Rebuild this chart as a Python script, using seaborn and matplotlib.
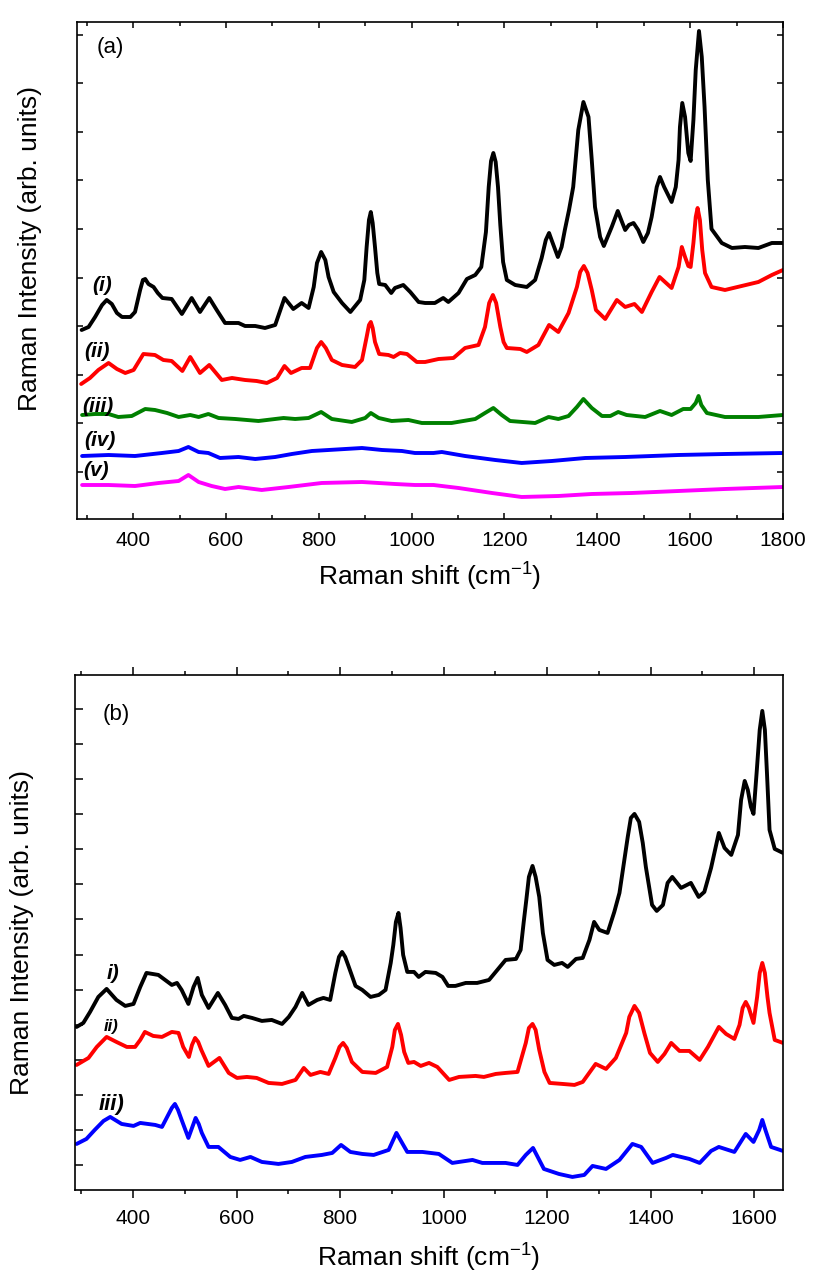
import numpy as np
import pandas as pd
import matplotlib
matplotlib.use("Agg")
import matplotlib.pyplot as plt
from matplotlib.ticker import MultipleLocator, FixedLocator
import seaborn as sns

# ---------------- panel (a): five stacked spectra ----------------
a_i_x = [289, 304, 318, 333, 343, 354, 365, 376, 394, 404,
         415, 421, 426, 433, 444, 453, 463, 483, 505, 526,
         544, 564, 580, 598, 627, 641, 663, 684, 706, 726,
         745, 763, 778, 789, 796, 805, 814, 821, 832, 850,
         868, 889, 898, 903, 908, 912, 916, 921, 926, 930,
         943, 956, 964, 982, 997, 1015, 1029, 1050, 1068, 1079,
         1101, 1119, 1137, 1150, 1160, 1166, 1171, 1176, 1181, 1186,
         1191, 1197, 1205, 1223, 1248, 1266, 1280, 1289, 1296, 1303,
         1315, 1323, 1330, 1339, 1348, 1359, 1370, 1381, 1388, 1395,
         1406, 1414, 1431, 1444, 1454, 1460, 1468, 1478, 1488, 1499,
         1509, 1517, 1528, 1535, 1544, 1560, 1569, 1575, 1578, 1583,
         1589, 1596, 1601, 1607, 1612, 1619, 1625, 1631, 1638, 1646,
         1668, 1690, 1718, 1747, 1776, 1800]
a_i_y = [187, 190, 200, 212, 217, 213, 204, 200, 200, 205,
         227, 237, 238, 233, 230, 224, 219, 218, 203, 219,
         205, 219, 207, 194, 194, 191, 191, 189, 192, 219,
         208, 214, 209, 230, 254, 265, 257, 240, 225, 214,
         205, 217, 237, 270, 297, 305, 294, 270, 244, 233,
         232, 224, 229, 232, 225, 215, 214, 214, 219, 215,
         224, 238, 242, 250, 285, 330, 356, 364, 355, 330,
         292, 255, 237, 232, 230, 237, 259, 277, 284, 275,
         260, 270, 287, 307, 330, 387, 415, 400, 357, 310,
         280, 271, 290, 306, 294, 287, 292, 294, 287, 275,
         284, 300, 330, 340, 330, 315, 330, 357, 390, 414,
         400, 364, 356, 397, 447, 486, 460, 410, 337, 288,
         274, 269, 270, 269, 274, 274]

a_ii_x = [288, 307, 325, 347, 365, 383, 401, 422, 447, 465,
          483, 506, 523, 544, 564, 591, 613, 641, 666, 688,
          710, 726, 740, 763, 781, 796, 805, 815, 828, 850,
          878, 893, 903, 908, 912, 916, 921, 930, 950, 961,
          975, 990, 1011, 1029, 1058, 1090, 1115, 1144, 1158, 1167,
          1175, 1182, 1191, 1198, 1205, 1234, 1248, 1273, 1296, 1316,
          1338, 1356, 1363, 1371, 1379, 1388, 1397, 1417, 1442, 1460,
          1480, 1496, 1517, 1534, 1560, 1575, 1582, 1589, 1596, 1601,
          1607, 1612, 1616, 1621, 1626, 1632, 1646, 1675, 1711, 1747,
          1776, 1800]
a_ii_y = [133, 139, 147, 154, 148, 144, 147, 163, 162, 157,
          156, 146, 160, 144, 152, 137, 139, 137, 136, 134,
          139, 151, 144, 149, 149, 169, 175, 169, 157, 152,
          150, 157, 180, 192, 195, 189, 175, 163, 162, 160,
          164, 163, 155, 155, 158, 159, 169, 172, 190, 214,
          222, 214, 190, 175, 169, 168, 165, 172, 192, 185,
          204, 230, 245, 251, 244, 227, 207, 198, 217, 210,
          213, 205, 225, 240, 229, 250, 270, 260, 251, 250,
          274, 300, 309, 297, 267, 244, 230, 227, 231, 235,
          242, 247]

a_iii_x = [290, 318, 347, 368, 397, 426, 447, 473, 498, 523,
           541, 562, 584, 620, 670, 706, 724, 749, 778, 805,
           828, 871, 900, 912, 929, 957, 993, 1022, 1047, 1086,
           1137, 1158, 1176, 1194, 1212, 1266, 1295, 1316, 1338, 1356,
           1370, 1388, 1410, 1428, 1445, 1463, 1503, 1535, 1560, 1585,
           1601, 1612, 1618, 1624, 1636, 1675, 1747, 1800]
a_iii_y = [102, 103, 103, 100, 101, 108, 107, 104, 100, 102,
           100, 103, 99, 98, 96, 98, 99, 98, 99, 105,
           98, 95, 99, 104, 99, 96, 97, 94, 94, 94,
           98, 104, 109, 102, 96, 94, 100, 98, 101, 110,
           118, 109, 101, 101, 105, 102, 100, 106, 102, 108,
           108, 114, 121, 112, 104, 100, 100, 102]

a_iv_x = [290, 347, 404, 462, 498, 519, 541, 562, 587, 627,
          663, 706, 742, 785, 821, 893, 936, 979, 1007, 1047,
          1065, 1115, 1180, 1237, 1302, 1374, 1460, 1575, 1675, 1800]
a_iv_y = [61, 62, 61, 64, 66, 70, 65, 64, 59, 60,
          58, 60, 63, 66, 67, 69, 67, 66, 64, 64,
          65, 61, 57, 54, 56, 59, 60, 62, 63, 64]

a_v_x = [290, 347, 404, 455, 498, 519, 541, 569, 598, 627,
         677, 735, 806, 893, 964, 1007, 1047, 1101, 1173, 1237,
         1316, 1388, 1474, 1575, 1675, 1800]
a_v_y = [32, 32, 31, 34, 36, 42, 35, 31, 28, 30,
         27, 30, 34, 35, 33, 32, 32, 29, 24, 20,
         21, 23, 24, 26, 28, 30]

a_labels = ["(i)", "(ii)", "(iii)", "(iv)", "(v)"]
a_colors = ["black", "#ff0000", "#008000", "#0000ff", "#ff00ff"]

# ---------------- panel (b): three stacked spectra ----------------
b_i_x = [291, 304, 317, 333, 349, 368, 385, 401, 414, 426,
         449, 462, 475, 485, 494, 507, 517, 525, 533, 546,
         564, 578, 591, 604, 614, 630, 649, 668, 688, 701,
         714, 727, 739, 756, 768, 781, 791, 798, 804, 810,
         817, 830, 843, 859, 875, 888, 898, 903, 908, 913,
         917, 922, 930, 943, 952, 965, 985, 998, 1009, 1023,
         1043, 1065, 1088, 1104, 1120, 1140, 1149, 1155, 1160, 1165,
         1172, 1178, 1185, 1192, 1201, 1214, 1229, 1240, 1256, 1269,
         1282, 1291, 1301, 1317, 1330, 1340, 1356, 1362, 1369, 1378,
         1385, 1391, 1403, 1412, 1424, 1433, 1442, 1459, 1478, 1493,
         1504, 1517, 1532, 1543, 1556, 1569, 1575, 1582, 1588, 1594,
         1599, 1605, 1611, 1616, 1621, 1625, 1630, 1640, 1656]
b_i_y = [163, 167, 178, 193, 201, 190, 184, 186, 203, 217,
         215, 210, 205, 207, 200, 186, 203, 212, 195, 182,
         197, 185, 172, 171, 174, 172, 169, 170, 166, 173,
         183, 197, 185, 190, 192, 190, 217, 233, 238, 233,
         223, 204, 200, 193, 195, 200, 227, 245, 268, 277,
         262, 235, 218, 218, 213, 218, 217, 213, 204, 204,
         207, 207, 210, 220, 230, 231, 240, 268, 290, 313,
         324, 313, 293, 257, 230, 225, 227, 223, 231, 232,
         250, 268, 260, 257, 278, 297, 353, 372, 376, 368,
         347, 323, 285, 279, 285, 307, 313, 302, 307, 293,
         298, 322, 357, 342, 335, 355, 390, 409, 400, 383,
         376, 417, 460, 479, 460, 417, 360, 341, 337]

b_ii_x = [291, 314, 330, 349, 368, 388, 404, 414, 423, 439,
          456, 475, 488, 497, 508, 514, 520, 526, 532, 546,
          567, 585, 601, 620, 639, 662, 688, 714, 730, 743,
          762, 778, 791, 799, 806, 813, 823, 843, 869, 891,
          901, 906, 912, 918, 924, 932, 943, 956, 972, 988,
          1011, 1030, 1062, 1078, 1101, 1120, 1143, 1159, 1165, 1172,
          1178, 1185, 1195, 1205, 1230, 1253, 1269, 1294, 1314, 1333,
          1353, 1359, 1369, 1378, 1388, 1399, 1414, 1427, 1440, 1456,
          1475, 1495, 1511, 1532, 1546, 1562, 1572, 1578, 1584, 1590,
          1599, 1606, 1611, 1616, 1621, 1626, 1630, 1640, 1656]
b_ii_y = [125, 132, 143, 153, 148, 143, 143, 150, 158, 154,
          153, 158, 157, 143, 133, 145, 152, 148, 140, 124,
          132, 117, 112, 113, 112, 107, 106, 110, 122, 115,
          118, 116, 132, 143, 147, 142, 128, 118, 117, 123,
          143, 160, 166, 155, 138, 127, 128, 124, 127, 123,
          110, 113, 114, 113, 116, 117, 118, 147, 162, 166,
          160, 140, 118, 107, 106, 105, 108, 126, 121, 132,
          157, 173, 184, 177, 157, 137, 128, 136, 147, 139,
          139, 130, 143, 163, 156, 151, 165, 182, 188, 182,
          167, 193, 217, 227, 217, 193, 177, 150, 147]

b_iii_x = [291, 310, 326, 343, 356, 378, 401, 414, 443, 456,
           468, 475, 481, 487, 494, 507, 514, 521, 527, 533,
           546, 565, 588, 607, 627, 649, 681, 707, 733, 765,
           785, 802, 820, 843, 865, 894, 909, 920, 930, 959,
           991, 1017, 1056, 1075, 1120, 1143, 1159, 1173, 1185, 1194,
           1223, 1249, 1272, 1288, 1314, 1340, 1365, 1382, 1404, 1430,
           1443, 1475, 1495, 1517, 1532, 1562, 1584, 1599, 1610, 1616,
           1622, 1633, 1656]
b_iii_y = [46, 51, 60, 69, 73, 66, 64, 67, 65, 63,
           75, 82, 86, 80, 70, 52, 62, 72, 66, 57,
           43, 43, 33, 30, 33, 28, 26, 28, 33, 35,
           37, 45, 38, 36, 35, 40, 57, 47, 38, 38,
           36, 27, 30, 27, 27, 25, 35, 42, 30, 21,
           16, 13, 15, 24, 21, 30, 46, 43, 27, 32,
           35, 31, 27, 39, 43, 38, 56, 48, 60, 70,
           60, 43, 39]

b_labels = ["i)", "ii)", "iii)"]
b_colors = ["black", "#ff0000", "#0000ff"]

x_ticks_major = [400, 600, 800, 1000, 1200, 1400, 1600, 1800]
a_yticks = [45 + 48.6 * k for k in range(10)]
b_yticks = [25 + 35.07 * k for k in range(14)]

# ---------------- styling ----------------
sns.set_style("ticks")
plt.rcParams["font.family"] = ["Liberation Sans", "DejaVu Sans"]
plt.rcParams["mathtext.fontset"] = "custom"
plt.rcParams["mathtext.rm"] = "Liberation Sans"
plt.rcParams["mathtext.it"] = "Liberation Sans:italic"
plt.rcParams["axes.linewidth"] = 1.2
plt.rcParams["text.color"] = "black"
plt.rcParams["axes.labelcolor"] = "black"
plt.rcParams["xtick.color"] = "black"
plt.rcParams["ytick.color"] = "black"
plt.rcParams["axes.edgecolor"] = "black"

fig = plt.figure(figsize=(8.13, 12.78), dpi=100)
ax1 = fig.add_axes([0.0947, 0.5939, 0.8684, 0.3889])
ax2 = fig.add_axes([0.0923, 0.0689, 0.8708, 0.4030])

LW = 2.8


def draw(ax, x, y, color):
    df = pd.DataFrame({"shift": x, "intensity": y})
    sns.lineplot(data=df, x="shift", y="intensity", color=color, lw=LW,
                 estimator=None, sort=False, ax=ax,
                 solid_joinstyle="round", solid_capstyle="round")


for xs, ys, c in zip([a_i_x, a_ii_x, a_iii_x, a_iv_x, a_v_x],
                     [a_i_y, a_ii_y, a_iii_y, a_iv_y, a_v_y], a_colors):
    draw(ax1, xs, ys, c)

for xs, ys, c in zip([b_i_x, b_ii_x, b_iii_x],
                     [b_i_y, b_ii_y, b_iii_y], b_colors):
    draw(ax2, xs, ys, c)

# panel (a) axes
ax1.set_xlim(279, 1800)
ax1.set_ylim(-2, 495)
ax1.xaxis.set_major_locator(FixedLocator(x_ticks_major))
ax1.xaxis.set_minor_locator(MultipleLocator(100))
ax1.yaxis.set_major_locator(FixedLocator(a_yticks))
ax1.tick_params(axis="x", which="both", direction="in", top=True, bottom=True,
                labelsize=15, pad=9)
ax1.tick_params(axis="x", which="major", length=4.5, width=1.1)
ax1.tick_params(axis="x", which="minor", length=3, width=1.1)
ax1.tick_params(axis="y", which="major", direction="in", left=True, right=True,
                length=4, width=1.1, labelleft=False)
ax1.set_xlabel("Raman shift (cm$^{-1}$)", fontsize=19)
ax1.set_ylabel("Raman Intensity (arb. units)", fontsize=19)
ax1.xaxis.set_label_coords(0.5, -0.085)
ax1.yaxis.set_label_coords(-0.05, 0.545)

# panel (b) axes
ax2.set_xlim(288, 1656)
ax2.set_ylim(0, 515)
ax2.xaxis.set_major_locator(FixedLocator(x_ticks_major[:-1]))
ax2.xaxis.set_minor_locator(MultipleLocator(100))
ax2.yaxis.set_major_locator(FixedLocator(b_yticks))
ax2.tick_params(axis="x", which="both", direction="out", top=True, bottom=True,
                labelsize=15, pad=8)
ax2.tick_params(axis="x", which="major", length=6, width=1.1)
ax2.tick_params(axis="x", which="minor", length=3, width=1.1)
ax2.tick_params(axis="y", which="major", direction="in", left=True, right=False,
                length=6, width=1.1, labelleft=False)
ax2.set_xlabel("Raman shift (cm$^{-1}$)", fontsize=19)
ax2.set_ylabel("Raman Intensity (arb. units)", fontsize=19)
ax2.xaxis.set_label_coords(0.5, -0.1)
ax2.yaxis.set_label_coords(-0.058, 0.50)

# panel tags and curve labels
ax1.text(0.047, 0.948, "(a)", transform=ax1.transAxes, fontsize=16,
         ha="center", va="center")
ax2.text(0.058, 0.924, "(b)", transform=ax2.transAxes, fontsize=16,
         ha="center", va="center")

a_label_pos = [(0.0354, 0.469), (0.0283, 0.338), (0.0297, 0.227), (0.0326, 0.157), (0.0269, 0.0966)]
for (lx, ly), t in zip(a_label_pos, a_labels):
    ax1.text(lx, ly, t, transform=ax1.transAxes, fontsize=15, fontweight="bold",
             fontstyle="italic", ha="center", va="center")

b_label_pos = [(0.0537, 0.421, 15), (0.0508, 0.318, 12), (0.0508, 0.165, 16)]
for (lx, ly, fs), t in zip(b_label_pos, b_labels):
    ax2.text(lx, ly, t, transform=ax2.transAxes, fontsize=fs, fontweight="bold",
             fontstyle="italic", ha="center", va="center")

for ax in (ax1, ax2):
    for sp in ax.spines.values():
        sp.set_visible(True)
        sp.set_color("black")

fig.savefig("out.png", dpi=100)
